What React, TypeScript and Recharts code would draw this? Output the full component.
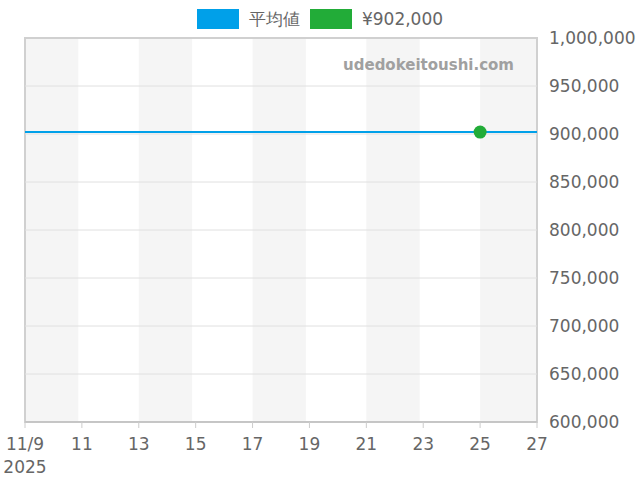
import React from 'react';
import {
  ComposedChart, Line, Scatter, XAxis, YAxis, ReferenceArea, ReferenceLine,
} from 'recharts';

const dayTicks = [0, 2, 4, 6, 8, 10, 12, 14, 16, 18];
const dayLabels = ['11/9', '11', '13', '15', '17', '19', '21', '23', '25', '27'];
const yearLabel = '2025';
const priceTicks = [600000, 650000, 700000, 750000, 800000, 850000, 900000, 950000, 1000000];
const bandStarts = [0, 4, 8, 12, 16];
const bandEnds = [1.875, 5.875, 9.875, 13.875, 18];
const averageLine = [
  { day: 0, avg: 902000 },
  { day: 18, avg: 902000 },
];
const pricePoints = [{ day: 16, price: 902000 }];
const legendNames = ['平均値', '¥902,000'];
const legendColors = ['#00a0e9', '#22ac38'];

const FONT = '"DejaVu Sans", sans-serif';

const XTick = (props: any) => {
  const { x, y, payload } = props;
  const idx = dayTicks.indexOf(payload.value);
  return (
    <g>
      <text x={x} y={y + 20} textAnchor="middle" fill="#666" fontSize={17} fontFamily={FONT}>
        {dayLabels[idx]}
      </text>
      {idx === 0 && (
        <text x={x} y={y + 43} textAnchor="middle" fill="#666" fontSize={17} fontFamily={FONT}>
          {yearLabel}
        </text>
      )}
    </g>
  );
};

const YTick = (props: any) => {
  const { y, payload } = props;
  return (
    <text x={549} y={y + 6} textAnchor="start" fill="#666" fontSize={17} fontFamily={FONT}>
      {payload.value.toLocaleString('en-US')}
    </text>
  );
};

export default function App() {
  return (
    <div style={{ position: 'absolute', left: 0, top: 0, width: 640, height: 480, background: '#fff' }}>
      <ComposedChart width={640} height={480} margin={{ top: 38, right: 0, bottom: 0, left: 25 }}>
        {bandStarts.map((s, i) => (
          <ReferenceArea key={'b' + i} x1={s} x2={bandEnds[i]} y1={600000} y2={1000000} fill="#f5f5f5" fillOpacity={1} stroke="none" ifOverflow="hidden" />
        ))}
        {priceTicks.slice(1, -1).map((v) => (
          <ReferenceLine key={'g' + v} y={v} stroke="#e0e0e0" strokeWidth={1} />
        ))}
        <XAxis
          dataKey="day"
          type="number"
          domain={[0, 18]}
          ticks={dayTicks}
          interval={0}
          height={58}
          stroke="#bbb"
          tickLine={{ stroke: '#ccc' }}
          tickSize={6}
          tick={<XTick />}
          allowDuplicatedCategory={false}
        />
        <YAxis
          yAxisId={0}
          orientation="right"
          type="number"
          domain={[600000, 1000000]}
          ticks={priceTicks}
          interval={0}
          width={103}
          axisLine={false}
          tickLine={false}
          tick={<YTick />}
        />
        <ReferenceArea x1={0} x2={18} y1={600000} y2={1000000} fill="none" stroke="#d0d0d0" strokeWidth={2} />
        <Line data={averageLine} dataKey="avg" stroke="#00a0e9" strokeWidth={2} dot={false} isAnimationActive={false} />
        <Scatter data={pricePoints} dataKey="price" fill="#22ac38" isAnimationActive={false}
          shape={(p: any) => <circle cx={p.cx} cy={p.cy} r={6.5} fill="#22ac38" />} />
      </ComposedChart>
      <div style={{ position: 'absolute', left: 0, top: 9, width: 640, display: 'flex', justifyContent: 'center', alignItems: 'center', fontFamily: FONT, fontSize: 17, color: '#666', height: 20 }}>
        {legendNames.map((n, i) => (
          <div key={n} style={{ display: 'flex', alignItems: 'center', marginLeft: i ? 10 : 0 }}>
            <span style={{ display: 'inline-block', width: 42, height: 20, background: legendColors[i], marginRight: 10 }} />
            <span>{n}</span>
          </div>
        ))}
      </div>
      <div style={{ position: 'absolute', right: 126, top: 55, fontFamily: FONT, fontSize: 15, fontWeight: 'bold', color: '#a0a0a0', lineHeight: '20px' }}>
        udedokeitoushi.com
      </div>
    </div>
  );
}
